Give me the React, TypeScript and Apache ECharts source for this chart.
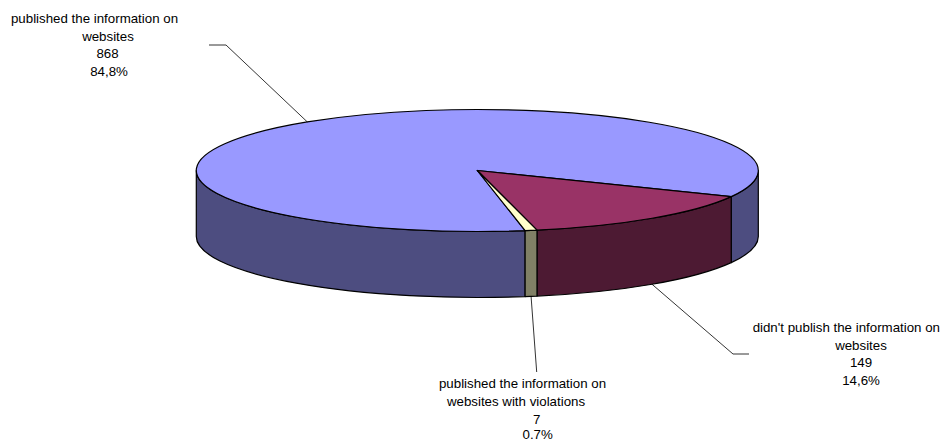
import React, { useEffect, useRef } from "react";
import * as echarts from "echarts";

const categories = [
  "published the information on websites",
  "didn't publish the information on websites",
  "published the information on websites with violations",
];
const values = [868, 149, 7];
const labelLines = [
  ["published the information on", "websites", "868", "84,8%"],
  ["didn't publish the information on", "websites", "149", "14,6%"],
  ["published the information on", "websites with violations", "7", "0.7%"],
];

const topColors = ["#9999FF", "#993366", "#FFFFCC"];
const sideColors = ["#4D4D80", "#4D1A33", "#808066"];

const CX = 477.3;
const CY = 170.5;
const RX = 281;
const RY = 61;
const DEPTH = 66;
const START_ANGLE = 80.2;
const FONT = '13.3px "Liberation Sans", Arial, sans-serif';

// Layout of each label: leader elbow, leader end, and the centre x / middle y of each text line
const leaders = [
  { elbow: [226, 45], end: [209, 45] },
  { elbow: [733, 354], end: [749, 354] },
  { elbow: [536.7, 372], end: null as number[] | null },
];
const lineX = [
  [94.5, 108, 107.5, 109],
  [846.3, 861, 861, 861],
  [522.5, 516, 536.7, 537.7],
];
const lineY = [
  [18.8, 36.5, 53.5, 71.5],
  [327.5, 345.5, 362.7, 380.5],
  [383.5, 401.5, 419, 434.5],
];

const total = values.reduce((a, b) => a + b, 0);
const rad = (d: number) => (d * Math.PI) / 180;
const px = (d: number) => CX + RX * Math.cos(rad(d));
const py = (d: number, off = 0) => CY + off + RY * Math.sin(rad(d));
const f = (n: number) => n.toFixed(2);

function topPath(a: number, b: number) {
  const large = b - a > 180 ? 1 : 0;
  return `M${f(CX)} ${f(CY)}L${f(px(a))} ${f(py(a))}A${RX} ${RY} 0 ${large} 1 ${f(px(b))} ${f(py(b))}Z`;
}

function sidePath(a: number, b: number) {
  const large = b - a > 180 ? 1 : 0;
  return (
    `M${f(px(a))} ${f(py(a))}A${RX} ${RY} 0 ${large} 1 ${f(px(b))} ${f(py(b))}` +
    `L${f(px(b))} ${f(py(b, DEPTH))}A${RX} ${RY} 0 ${large} 0 ${f(px(a))} ${f(py(a, DEPTH))}Z`
  );
}

// The parts of [a, b] that lie on the front half of the ellipse (0..180 degrees, plus 360..540)
function frontRanges(a: number, b: number) {
  const out: number[][] = [];
  for (const [lo, hi] of [[0, 180], [360, 540]]) {
    const s = Math.max(a, lo);
    const e = Math.min(b, hi);
    if (e > s) out.push([s, e]);
  }
  return out;
}

const renderItem = (params: any, api: any) => {
  const i = params.dataIndex;
  let before = 0;
  for (let k = 0; k < i; k++) before += values[k];
  const a = START_ANGLE + (before / total) * 360;
  const b = a + ((api.value(0) as number) / total) * 360;
  const mid = (a + b) / 2;
  const stroke = { stroke: "#000", lineWidth: 1.2, lineJoin: "round" };

  const children: any[] = [];
  frontRanges(a, b).forEach(([s, e]) => {
    children.push({
      type: "path",
      shape: { pathData: sidePath(s, e) },
      style: { fill: sideColors[i], ...stroke },
    });
  });
  children.push({
    type: "path",
    shape: { pathData: topPath(a, b) },
    style: { fill: topColors[i], ...stroke },
  });

  const sinMid = Math.sin(rad(mid));
  const anchor = [px(mid), py(mid, sinMid > 0 ? DEPTH : 0)];
  const pts = [anchor, leaders[i].elbow];
  if (leaders[i].end) pts.push(leaders[i].end as number[]);
  children.push({
    type: "polyline",
    shape: { points: pts },
    style: { fill: "none", stroke: "#000", lineWidth: 0.8 },
  });

  labelLines[i].forEach((line, k) => {
    children.push({
      type: "text",
      style: {
        text: line,
        x: lineX[i][k],
        y: lineY[i][k],
        align: "center",
        verticalAlign: "middle",
        font: FONT,
        fill: "#000",
      },
    });
  });

  return { type: "group", children };
};

export default function App() {
  const ref = useRef<HTMLDivElement>(null);
  useEffect(() => {
    const chart = echarts.init(ref.current!, null, { renderer: "svg" });
    chart.setOption({
      animation: false,
      backgroundColor: "#fff",
      series: [
        {
          type: "custom",
          coordinateSystem: "none",
          renderItem,
          silent: true,
          clip: false,
          data: values.map((v, i) => ({ name: categories[i], value: [v] })),
        },
      ],
    });
    return () => chart.dispose();
  }, []);
  return (
    <div
      ref={ref}
      style={{ position: "absolute", left: 0, top: 0, width: 941, height: 441, overflow: "hidden" }}
    />
  );
}
